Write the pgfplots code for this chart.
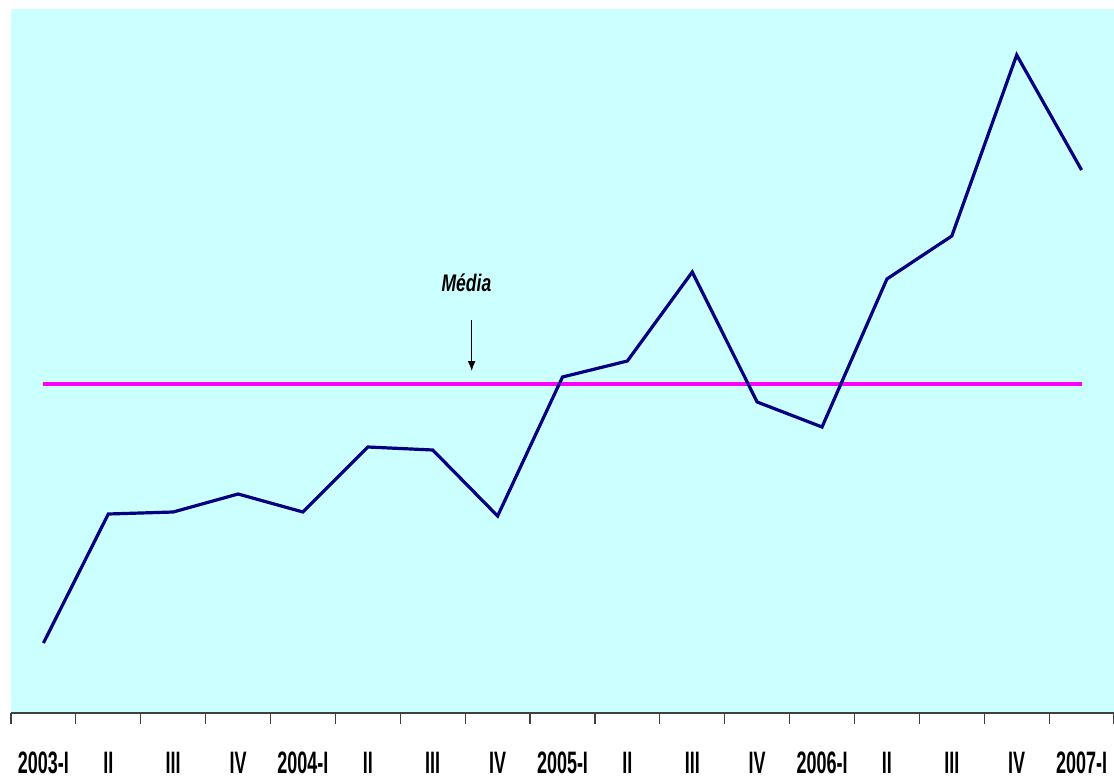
\documentclass[border=0pt]{standalone}
\usepackage{pgfplots}
\pgfplotsset{compat=1.18}
\usetikzlibrary{arrows.meta}
\usepackage{fontspec}
\setmainfont{Liberation Sans}
\newfontfamily\labfont{Liberation Sans}[FakeStretch=0.58]
\newfontfamily\medfont{Liberation Sans}[FakeStretch=0.73]
\definecolor{bgcyan}{RGB}{204,255,255}
\definecolor{navyline}{RGB}{0,0,128}
\definecolor{meanmag}{RGB}{255,0,255}
\begin{document}
\begin{tikzpicture}
\begin{axis}[
  at={(0,0)}, anchor=south west,
  width=551.5pt, height=352pt, scale only axis,
  xmin=-0.5, xmax=16.5, ymin=0, ymax=704,
  axis background/.style={fill=bgcyan},
  axis x line*=bottom, axis y line=none,
  x axis line style={draw=black!75, line width=0.8pt},
  xtick={0,...,16},
  xticklabels={2003-I,II,III,IV,2004-I,II,III,IV,2005-I,II,III,IV,2006-I,II,III,IV,2007-I},
  major tick length=0pt,
  minor xtick={-0.5,0.5,...,16.5},
  minor tick length=5.5pt,
  tick align=outside,
  minor tick style={draw=black!75, line width=0.6pt},
  xticklabel style={font=\labfont\bfseries\fontsize{15.5}{16}\selectfont, anchor=north, yshift=-16pt, text=black},
  clip=false,
]
\addplot[meanmag, line width=1.6pt] coordinates {(0,329) (16,329)};
\addplot[navyline, line width=1.6pt] coordinates {
(0,70) (1,199) (2,201) (3,219) (4,201) (5,266) (6,263) (7,197)
(8,336) (9,352) (10,441) (11,311) (12,286) (13,434) (14,477) (15,658) (16,543)};
\draw[-{Latex[length=5pt,width=4pt]}, line width=0.6pt] (axis cs:6.6,393) -- (axis cs:6.6,342);
\node[font=\medfont\itshape\bfseries\fontsize{12}{12}\selectfont] at (axis cs:6.52,430) {Média};
\end{axis}
\pgfresetboundingbox
\path (-5.5pt,-32.5pt) rectangle (551.5pt,356.5pt);
\end{tikzpicture}
\end{document}
